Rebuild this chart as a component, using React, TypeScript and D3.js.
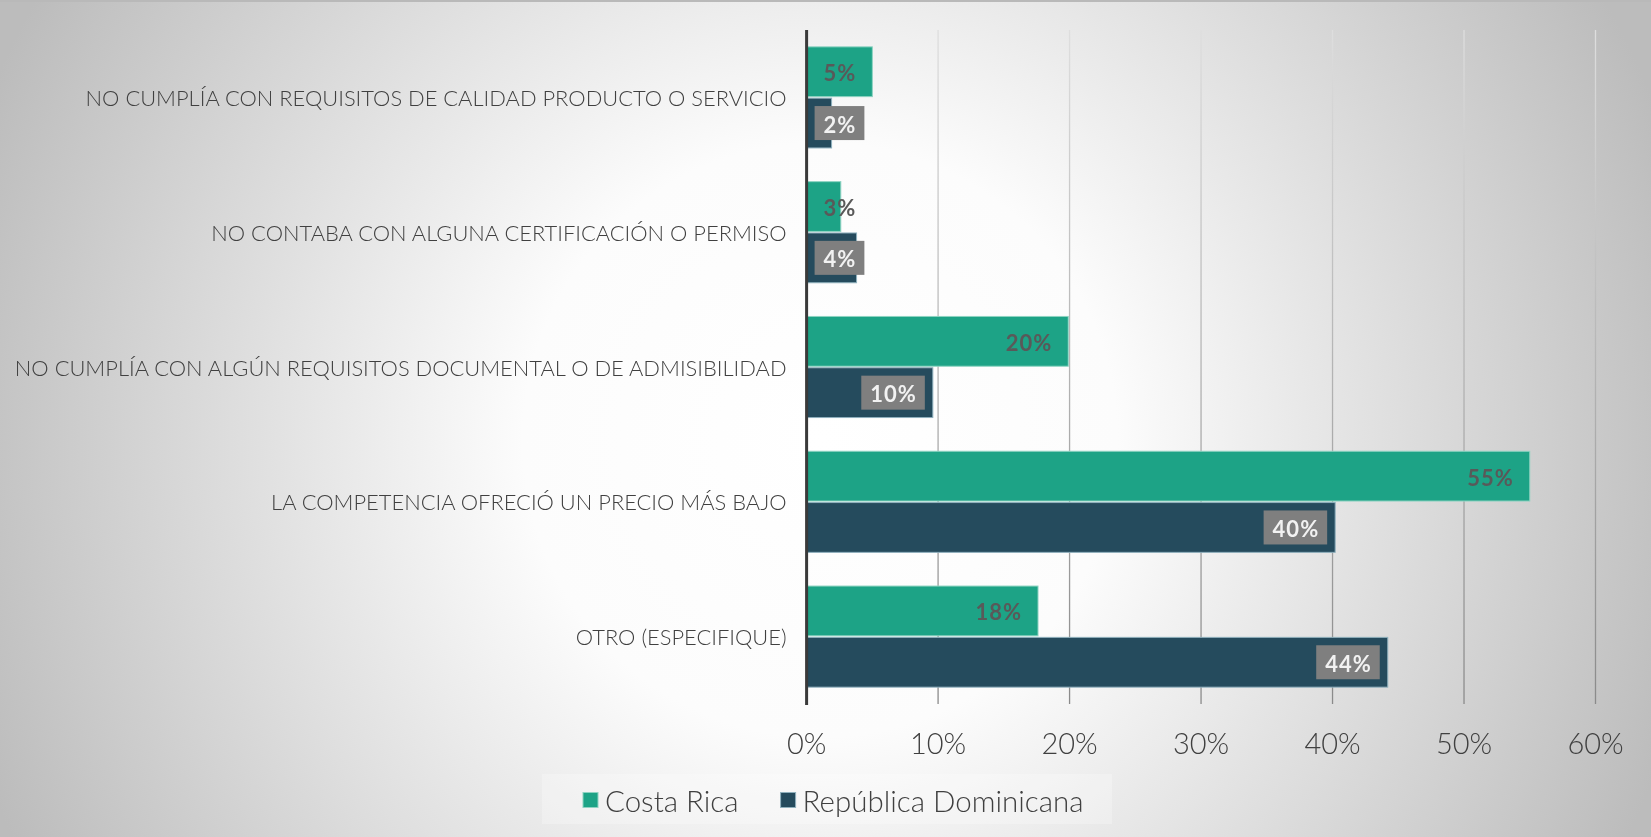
import { useMemo } from 'react'
import * as d3 from 'd3'

const WIDTH = 1651
const HEIGHT = 837

const categories = [
  'NO CUMPLÍA CON REQUISITOS DE CALIDAD PRODUCTO O SERVICIO',
  'NO CONTABA CON ALGUNA CERTIFICACIÓN O PERMISO',
  'NO CUMPLÍA CON ALGÚN REQUISITOS DOCUMENTAL O DE ADMISIBILIDAD',
  'LA COMPETENCIA OFRECIÓ UN PRECIO MÁS BAJO',
  'OTRO (ESPECIFIQUE)',
]
const seriesNames = ['Costa Rica', 'República Dominicana']
const costaRica = [0.05, 0.026, 0.199, 0.55, 0.176]
const repDominicana = [0.019, 0.038, 0.096, 0.402, 0.442]
const xTicks = [0, 0.1, 0.2, 0.3, 0.4, 0.5, 0.6]

const COLORS = ['#1da386', '#254b5d']
const LABEL_SIZE = 22
const LABEL_SPACING = 1
const LABEL_FONT = `700 ${LABEL_SIZE}px Lato`

const measure = (() => {
  let ctx: CanvasRenderingContext2D | null = null
  return (text: string, font: string, spacing = 0) => {
    if (!ctx) ctx = document.createElement('canvas').getContext('2d')
    if (!ctx) return text.length * 12
    ctx.font = font
    return ctx.measureText(text).width + spacing * (text.length - 1)
  }
})()

export default function App() {
  const x = useMemo(
    () => d3.scaleLinear().domain([0, 0.6]).range([806.6, 1595.5]),
    []
  )
  const y = useMemo(
    () =>
      d3
        .scaleBand<string>()
        .domain(categories)
        .range([30, 704])
        .paddingInner(0.25)
        .paddingOuter(0.125),
    []
  )
  const ySub = useMemo(
    () =>
      d3
        .scaleBand<string>()
        .domain(seriesNames)
        .range([0, y.bandwidth()])
        .paddingInner(0.03),
    [y]
  )

  const bars = categories.flatMap((c, i) =>
    [costaRica[i], repDominicana[i]].map((v, s) => ({
      cat: c,
      series: s,
      value: v,
      y: (y(c) ?? 0) + (ySub(seriesNames[s]) ?? 0),
    }))
  )

  const fmt = d3.format('.0%')
  const x0 = x(0)

  return (
    <div style={{ position: 'fixed', left: 0, top: 0 }}>
      <svg width={WIDTH} height={HEIGHT} style={{ display: 'block' }}>
        <defs>
          <radialGradient
            id="bg"
            gradientUnits="userSpaceOnUse"
            cx={820}
            cy={440}
            r={900}
          >
            <stop offset="0" stopColor="#ffffff" />
            <stop offset="0.33" stopColor="#fcfcfc" />
            <stop offset="1" stopColor="#bcbcbc" />
          </radialGradient>
          <linearGradient
            id="grid"
            gradientUnits="userSpaceOnUse"
            x1={0}
            y1={30}
            x2={0}
            y2={704}
          >
            <stop offset="0" stopColor="#dedede" />
            <stop offset="1" stopColor="#8a8a8a" />
          </linearGradient>
        </defs>
        <rect width={WIDTH} height={HEIGHT} fill="url(#bg)" />
        <rect width={WIDTH} height={2} fill="#b9b9b9" />

        {/* gridlines */}
        {xTicks.slice(1).map((t) => (
          <line
            key={t}
            x1={x(t)}
            x2={x(t)}
            y1={30}
            y2={704}
            stroke="url(#grid)"
            strokeWidth={1.3}
          />
        ))}

        {/* bars */}
        {bars.map((b, i) => (
          <rect
            key={i}
            x={x0}
            y={b.y}
            width={x(b.value) - x0}
            height={ySub.bandwidth()}
            fill={COLORS[b.series]}
            stroke={b.series === 0 ? '#8ed3c2' : '#8fb0bd'}
            strokeWidth={1}
          />
        ))}

        {/* zero axis */}
        <line
          x1={x0}
          x2={x0}
          y1={30}
          y2={705}
          stroke="#3a3a3a"
          strokeWidth={3}
        />

        {/* value labels */}
        {bars.map((b, i) => {
          const text = fmt(b.value)
          const w = measure(text, LABEL_FONT, LABEL_SPACING)
          const right = Math.max(x(b.value) - 17, x0 + 17 + w)
          const cy = b.y + ySub.bandwidth() / 2
          return (
            <g key={i}>
              {b.series === 1 && (
                <rect
                  x={right - w - 9}
                  y={cy - 17}
                  width={w + 18}
                  height={34}
                  fill="#7f7f7f"
                />
              )}
              <text
                x={right - w}
                y={cy + 1}
                dominantBaseline="central"
                fontFamily="Lato"
                fontWeight={700}
                fontSize={LABEL_SIZE}
                letterSpacing={LABEL_SPACING}
                fill={b.series === 1 ? '#f2f2f2' : '#595959'}
              >
                {text}
              </text>
            </g>
          )
        })}

        {/* category labels */}
        {categories.map((c) => (
          <text
            key={c}
            x={786.6}
            y={(y(c) ?? 0) + y.bandwidth() / 2}
            textAnchor="end"
            dominantBaseline="central"
            fontFamily="Lato"
            fontWeight={300}
            fontSize={21.9}
            fill="#404040"
          >
            {c}
          </text>
        ))}

        {/* x tick labels */}
        {xTicks.map((t) => (
          <text
            key={t}
            x={x(t)}
            y={742}
            textAnchor="middle"
            dominantBaseline="central"
            fontFamily="Lato"
            fontWeight={300}
            fontSize={29}
            fill="#404040"
          >
            {fmt(t)}
          </text>
        ))}

        {/* legend */}
        <rect x={542} y={774} width={570} height={50} fill="#ffffff" opacity={0.25} />
        {seriesNames.map((s, i) => {
          const lx = i === 0 ? 583 : 780.6
          return (
            <g key={s}>
              <rect
                x={lx}
                y={792.5}
                width={15}
                height={15}
                fill={COLORS[i]}
                stroke={i === 0 ? '#8ed3c2' : '#8fb0bd'}
              />
              <text
                x={lx + 22}
                y={800}
                dominantBaseline="central"
                fontFamily="Lato"
                fontWeight={300}
                fontSize={29.5}
                fill="#404040"
              >
                {s}
              </text>
            </g>
          )
        })}
      </svg>
    </div>
  )
}
